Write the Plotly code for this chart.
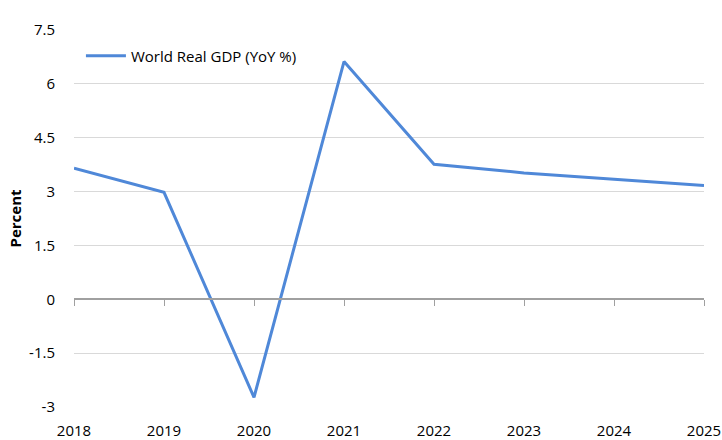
import plotly.graph_objects as go

years = [2018, 2019, 2020, 2021, 2022, 2023, 2024, 2025]
gdp = [3.65, 2.98, -2.73, 6.62, 3.76, 3.52, 3.34, 3.17]
y_ticks = [-3, -1.5, 0, 1.5, 3, 4.5, 6, 7.5]
y_tick_text = ["-3", "-1.5", "0", "1.5", "3", "4.5", "6", "7.5"]
series_name = "World Real GDP (YoY %)"

y_min, y_max = -3, 7.5
font_family = "Open Sans, Liberation Sans, sans-serif"

fig = go.Figure()
fig.add_trace(go.Scatter(
    x=years, y=gdp, mode="lines", name=series_name,
    line=dict(color="#4F88D8", width=3),
))
# invisible trace to host the zero-line axis with tick marks
fig.add_trace(go.Scatter(
    x=years, y=[None] * len(years), xaxis="x2", showlegend=False,
    hoverinfo="skip",
))

zero_pos = (0 - y_min) / (y_max - y_min)

fig.update_layout(
    width=722, height=440,
    margin=dict(l=74, r=18, t=30, b=33, autoexpand=False),
    paper_bgcolor="white", plot_bgcolor="white",
    font=dict(family=font_family, size=15, color="#000000"),
    showlegend=True,
    legend=dict(x=0.011, y=0.975, xanchor="left", yanchor="top",
                bgcolor="rgba(0,0,0,0)", font=dict(size=15),
                itemwidth=40),
    xaxis=dict(
        range=[years[0], years[-1]], tickmode="array", tickvals=years,
        ticktext=[str(y) for y in years], showgrid=False, showline=False,
        zeroline=False, ticks="", ticklabelstandoff=13, automargin=False,
        tickfont=dict(size=15),
    ),
    xaxis2=dict(
        overlaying="x", matches="x", anchor="free", position=zero_pos,
        side="bottom", tickmode="array", tickvals=years, showticklabels=False,
        showline=True, linecolor="#A0A0A0", linewidth=1.5,
        ticks="outside", ticklen=6, tickcolor="#A0A0A0", tickwidth=1,
        showgrid=False, zeroline=False, automargin=False,
        range=[years[0], years[-1]],
    ),
    yaxis=dict(
        range=[y_min, y_max], tickmode="array", tickvals=y_ticks,
        ticktext=y_tick_text, showgrid=True, gridcolor="#D9D9D9",
        gridwidth=1, zeroline=False, showline=False, ticks="",
        ticklabelstandoff=18, tickfont=dict(size=15), automargin=False,
        title=dict(text="<b>Percent</b>", font=dict(size=15), standoff=3),
    ),
)

fig.write_html("out.html")
